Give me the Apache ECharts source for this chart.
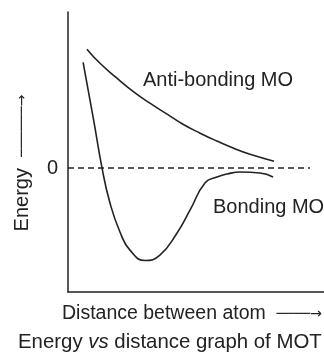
<!DOCTYPE html>
<html>
<head>
<meta charset="utf-8">
<script src="https://cdn.jsdelivr.net/npm/echarts@6/dist/echarts.min.js"></script>
<style>
html, body { margin: 0; padding: 0; background: #fff; }
#main { width: 324px; height: 353px; }
</style>
</head>
<body>
<div id="main"></div>
<script>
// anti-bonding curve (distance, energy)
var antiX = [0.74, 1.25, 1.91, 2.54, 3.20, 3.87, 4.49, 5.16, 5.82, 6.45, 7.11, 8.05];
var antiY = [4.80, 4.23, 3.63, 3.10, 2.62, 2.18, 1.77, 1.41, 1.09, 0.81, 0.56, 0.28];
// bonding curve
var bondX = [0.59, 1.0, 1.33, 1.64, 2.03, 2.42, 3.01, 3.59, 4.26, 4.77, 5.35, 5.82, 6.21, 6.72, 7.5, 8.01];
var bondY = [4.27, 1.95, 0, -1.41, -2.58, -3.31, -3.73, -3.51, -2.62, -1.69, -0.60, -0.36, -0.24, -0.16, -0.20, -0.36];
// zero level dashed line
var zeroX = [0, 9.45];
var zeroY = [0, 0];

function pairs(xs, ys) {
    return xs.map(function (x, i) { return [x, ys[i]]; });
}

var font = 'Liberation Sans, Arial, sans-serif';
var ink = '#222';
var arrow = { fontFamily: 'DejaVu Sans', fontSize: 14, color: ink };

var myChart = echarts.init(document.getElementById('main'));
var option = {
    animation: false,
    title: {
        text: 'Energy {i|vs} distance graph of MOT',
        left: 13,
        top: 327,
        textStyle: {
            fontFamily: font,
            fontSize: 20.4,
            fontWeight: 'normal',
            color: ink,
            rich: {
                i: { fontFamily: font, fontSize: 20.4, fontStyle: 'italic', color: ink }
            }
        }
    },
    grid: { left: 68, right: 0, top: 12, bottom: 61, outerBoundsMode: 'none' },
    xAxis: {
        type: 'value',
        min: 0,
        max: 10,
        name: 'Distance between atom  {a|────→}',
        nameLocation: 'middle',
        nameGap: 12,
        nameTextStyle: { fontFamily: font, fontSize: 19.5, color: ink, padding: [0, 8, 0, 0], rich: { a: arrow } },
        axisLine: { show: true, onZero: false, lineStyle: { color: ink, width: 1.5 } },
        axisTick: { show: false },
        axisLabel: { show: false },
        splitLine: { show: false }
    },
    yAxis: {
        type: 'value',
        min: -5,
        max: 6.3,
        interval: 5,
        name: 'Energy  {a|──────→}',
        nameLocation: 'middle',
        nameGap: 36,
        nameTextStyle: { fontFamily: font, fontSize: 20, color: ink, padding: [0, 22, 0, 0], rich: { a: arrow } },
        axisLine: { show: true, lineStyle: { color: ink, width: 1.5 } },
        axisTick: { show: false },
        axisLabel: {
            margin: 10,
            fontFamily: font,
            fontSize: 20,
            color: ink,
            formatter: function (v) { return v === 0 ? '0' : ''; }
        },
        splitLine: { show: false }
    },
    graphic: [
        { type: 'text', left: 143, top: 70, style: { text: 'Anti-bonding MO', font: '20px ' + font, fill: ink } },
        { type: 'text', left: 213, top: 197, style: { text: 'Bonding MO', font: '20px ' + font, fill: ink } }
    ],
    series: [
        {
            name: 'Anti-bonding MO',
            type: 'line',
            data: pairs(antiX, antiY),
            smooth: true,
            showSymbol: false,
            lineStyle: { color: ink, width: 1.6 }
        },
        {
            name: 'Bonding MO',
            type: 'line',
            data: pairs(bondX, bondY),
            smooth: true,
            showSymbol: false,
            lineStyle: { color: ink, width: 1.6 }
        },
        {
            name: 'zero',
            type: 'line',
            data: pairs(zeroX, zeroY),
            showSymbol: false,
            lineStyle: { color: ink, width: 1.5, type: [6, 4] }
        }
    ]
};
myChart.setOption(option);
</script>
</body>
</html>
